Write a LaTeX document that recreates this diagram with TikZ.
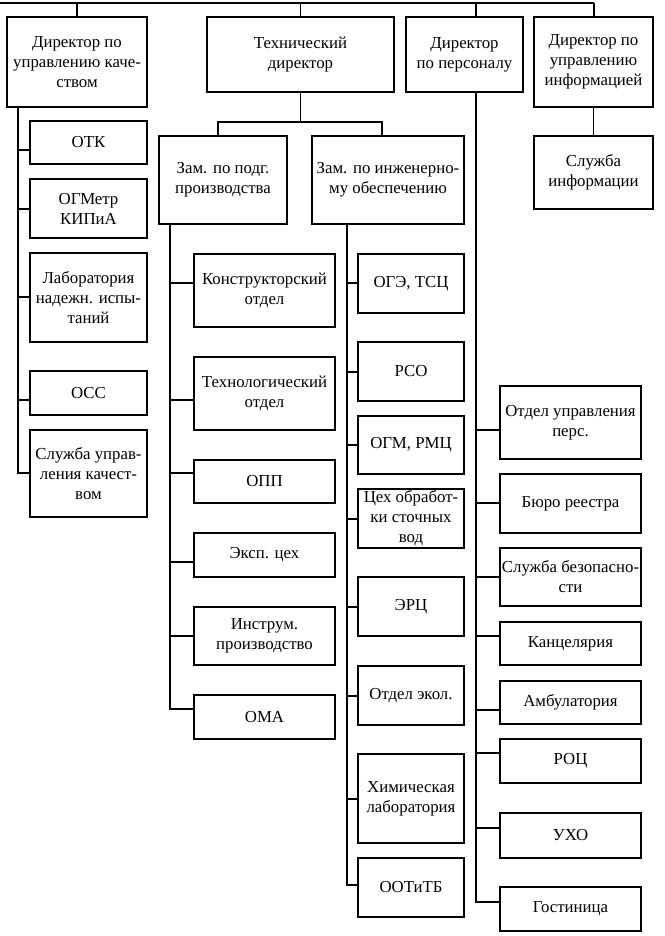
\documentclass[tikz,border=0pt]{standalone}
\usepackage{fontspec}
\setmainfont{Liberation Serif}
\tikzset{
  box/.style={draw, line width=1.3pt, inner sep=0pt, align=center, font=\fontsize{16.8}{20}\selectfont},
  ln/.style={line width=1.3pt}
}
\newcommand\bx[6]{\node[box, minimum width={(#4-#2)*1pt}, minimum height={(#5-#3)*1pt}] (#1) at ({(#2+#4)/2},{(#3+#5)/2}) {#6};}
\begin{document}
\begin{tikzpicture}[x=1pt,y=-1pt]
\useasboundingbox (0,0) rectangle (664,936);
% top level
\bx{dq}{7}{17}{147}{107}{Директор по\\управлению каче-\\ством}
\bx{td}{207}{17}{394}{92}{Технический\\директор}
\bx{dp}{406}{17}{523}{92}{Директор\\по персоналу}
\bx{di}{534}{17}{653}{107}{Директор по\\управлению\\информацией}
\coordinate (topL) at (0,3);
\coordinate (topR) at (594,3);
\draw[ln] (topL) -- (topR);
\draw[ln] (dq.north -| 77,0) -- (77,3);
\draw[ln] (td.north) -- (td.north |- topL);
\draw[ln] (dp.north -| 476,0) -- (476,3);
\draw[ln] (di.north -| topR) -- (topR);
% info
\bx{si}{534}{136}{653}{209}{Служба\\информации}
\draw[ln] (di.south -| si.north) -- (si.north);
% quality column
\bx{otk}{30}{121}{147}{164}{ОТК}
\bx{ogmetr}{30}{179}{147}{238}{ОГМетр\\КИПиА}
\bx{lab}{30}{253}{147}{342}{Лаборатория\\надежн. испы-\\таний}
\bx{oss}{30}{371}{147}{415}{ОСС}
\bx{suk}{30}{430}{147}{517}{Служба управ-\\ления качест-\\вом}
\coordinate (qt) at (18,107);
\draw[ln] (qt) |- (otk.west |- 0,150);
\draw[ln] (qt) |- (ogmetr.west |- 0,209);
\draw[ln] (qt) |- (lab.west |- 0,297);
\draw[ln] (qt) |- (oss.west |- 0,400);
\draw[ln] (qt) |- (suk.west |- 0,473);
% deputies
\bx{zp}{159}{136}{287}{224}{Зам. по подг.\\производства}
\bx{zi}{312}{136}{464}{224}{Зам. по инженерно-\\му обеспечению}
\coordinate (tj) at (300,122);
\draw[ln] (td.south) -- (td.south |- tj);
\draw[ln] (zp.north -| 218,0) -- (218,122) -- (382,122) -- (zi.north -| 382,0);
% production column
\bx{ko}{194}{254}{335}{327}{Конструкторский\\отдел}
\bx{to}{194}{357}{335}{430}{Технологический\\отдел}
\bx{opp}{194}{460}{335}{503}{ОПП}
\bx{ec}{194}{533}{335}{577}{Эксп. цех}
\bx{ip}{194}{607}{335}{665}{Инструм.\\производство}
\bx{oma}{194}{695}{335}{739}{ОМА}
\coordinate (pt) at (170,224);
\draw[ln] (pt) |- (ko.west |- 0,283);
\draw[ln] (pt) |- (to.west |- 0,400);
\draw[ln] (pt) |- (opp.west |- 0,473);
\draw[ln] (pt) |- (ec.west |- 0,562);
\draw[ln] (pt) |- (ip.west |- 0,636);
\draw[ln] (pt) |- (oma.west |- 0,709);
% engineering column
\bx{oge}{358}{254}{464}{313}{ОГЭ, ТСЦ}
\bx{rso}{358}{342}{464}{401}{РСО}
\bx{ogm}{358}{416}{464}{474}{ОГМ, РМЦ}
\bx{cex}{358}{489}{464}{548}{Цех обработ-\\ки сточных\\вод}
\bx{erc}{358}{577}{464}{636}{ЭРЦ}
\bx{oe}{358}{666}{464}{725}{Отдел экол.}
\bx{hl}{358}{754}{464}{843}{Химическая\\лаборатория}
\bx{ootb}{358}{858}{464}{917}{ООТиТБ}
\coordinate (et) at (347,224);
\draw[ln] (et) |- (oge.west |- 0,283);
\draw[ln] (et) |- (rso.west |- 0,372);
\draw[ln] (et) |- (ogm.west |- 0,445);
\draw[ln] (et) |- (cex.west |- 0,519);
\draw[ln] (et) |- (erc.west |- 0,607);
\draw[ln] (et) |- (oe.west |- 0,696);
\draw[ln] (et) |- (hl.west |- 0,799);
\draw[ln] (et) |- (ootb.west |- 0,885);
% personnel column
\bx{oup}{500}{386}{641}{459}{Отдел управления\\перс.}
\bx{br}{500}{474}{641}{533}{Бюро реестра}
\bx{sb}{500}{548}{641}{606}{Служба безопасно-\\сти}
\bx{kan}{500}{622}{641}{665}{Канцелярия}
\bx{amb}{500}{681}{641}{724}{Амбулатория}
\bx{roc}{500}{739}{641}{783}{РОЦ}
\bx{uho}{500}{813}{641}{858}{УХО}
\bx{gost}{500}{887}{641}{931}{Гостиница}
\coordinate (ppt) at (476,92);
\draw[ln] (ppt) |- (oup.west |- 0,430);
\draw[ln] (ppt) |- (br.west |- 0,503);
\draw[ln] (ppt) |- (sb.west |- 0,577);
\draw[ln] (ppt) |- (kan.west |- 0,636);
\draw[ln] (ppt) |- (amb.west |- 0,710);
\draw[ln] (ppt) |- (roc.west |- 0,753);
\draw[ln] (ppt) |- (uho.west |- 0,828);
\draw[ln] (ppt) |- (gost.west |- 0,902);
\end{tikzpicture}
\end{document}
